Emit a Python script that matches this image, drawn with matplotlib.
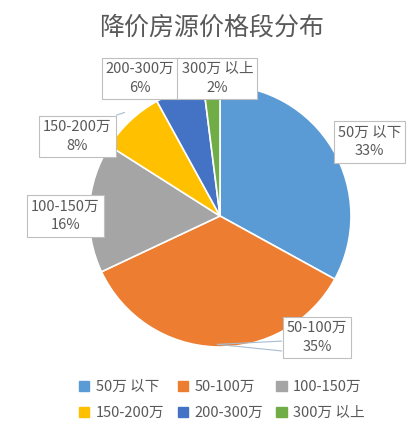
import matplotlib
matplotlib.use("Agg")
import matplotlib.pyplot as plt
from matplotlib.patches import Patch

plt.rcParams['font.family'] = ['Noto Sans CJK SC', 'DejaVu Sans']

title = "降价房源价格段分布"
categories = ["50万 以下", "50-100万", "100-150万", "150-200万", "200-300万", "300万 以上"]
values = [33, 35, 16, 8, 6, 2]
colors = ["#5B9BD5", "#ED7D31", "#A5A5A5", "#FFC000", "#4472C4", "#70AD47"]

W, H = 411, 433
fig = plt.figure(figsize=(W / 100, H / 100), dpi=100)
fig.patch.set_facecolor("white")

cx, cy, r = 220, 216, 131
ax = fig.add_axes([(cx - r) / W, (H - cy - r) / H, 2 * r / W, 2 * r / H])

ax.pie(values, colors=colors, startangle=90, counterclock=False, radius=1,
       wedgeprops=dict(edgecolor="white", linewidth=1.2))
ax.set_xlim(-1, 1)
ax.set_ylim(-1, 1)
ax.set_aspect("equal")
ax.axis("off")

# label box positions (data coords of pie axes)
label_pos = [(1.14, 0.565), (0.74, -0.93), (-1.18, 0.0), (-1.09, 0.61), (-0.61, 1.05), (-0.02, 1.05)]

# leader lines
lc = "#A9BCD0"
ax.plot([-0.02, 0.47], [-0.98, -0.955], color=lc, lw=0.8, zorder=3, clip_on=False)
ax.plot([-0.02, 0.47], [-0.98, -1.03], color=lc, lw=0.8, zorder=3, clip_on=False)
ax.plot([-0.79, -0.73], [0.77, 0.79], color=lc, lw=0.8, zorder=3, clip_on=False)

for name, v, (x, y) in zip(categories, values, label_pos):
    ax.text(x, y, f"{name}\n{v}%", ha="center", va="center", fontsize=10.5,
            color="#595959", linespacing=1.45, zorder=5, clip_on=False,
            bbox=dict(boxstyle="square,pad=0.28", facecolor="white",
                      edgecolor="#BFBFBF", linewidth=0.8))

fig.text(212 / W, 1 - 28 / H, title, ha="center", va="center", fontsize=18,
         color="#595959")

handles = [Patch(facecolor=c, edgecolor=c) for c in colors]
order = [0, 3, 1, 4, 2, 5]
fig.legend([handles[i] for i in order], [categories[i] for i in order],
           ncol=3, loc="center", bbox_to_anchor=(222 / W, 1 - 400 / H),
           frameon=False, fontsize=10.5, handlelength=0.7, handleheight=0.7,
           handletextpad=0.45, columnspacing=0.9, labelspacing=0.8,
           labelcolor="#595959")

fig.savefig("out.png", dpi=100, facecolor="white")
